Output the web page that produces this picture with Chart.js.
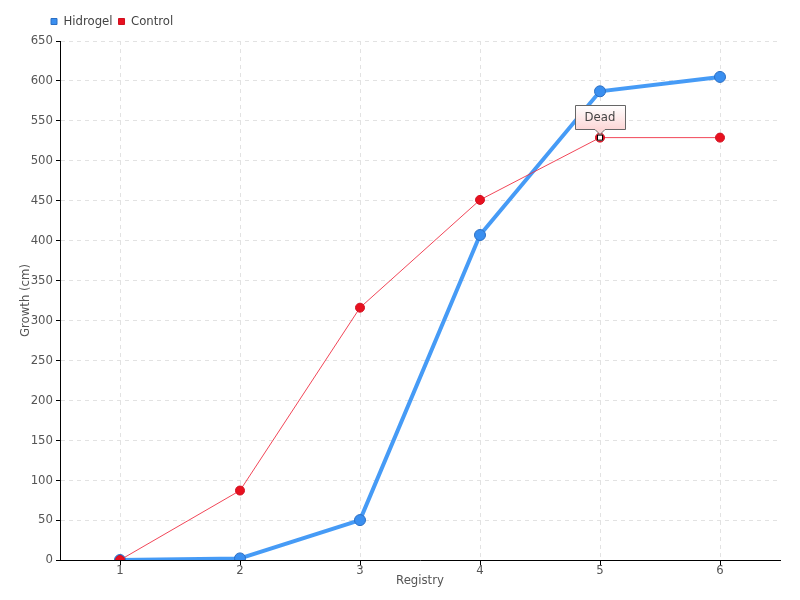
<!DOCTYPE html>
<html>
<head>
<meta charset="utf-8">
<script src="https://cdn.jsdelivr.net/npm/chart.js@4/dist/chart.umd.min.js"></script>
<style>
  html, body { margin: 0; padding: 0; background: #fff; }
  #wrap { width: 800px; height: 600px; }
</style>
</head>
<body>
<div id="wrap"><canvas id="growthChart"></canvas></div>
<script>
const registry = ['1', '2', '3', '4', '5', '6'];
const hidrogel = [0, 2, 50, 407, 587, 605];
const control = [0, 87, 316, 451, 529, 529];
const noteIndex = 4;
const noteText = 'Dead';

const FONT = '"DejaVu Sans Condensed", "Liberation Sans Narrow", "DejaVu Sans", sans-serif';

// little "Dead" balloon over the control point
const notePlugin = {
    id: 'note',
    afterInit(chart) {
        // a bit more room under the legend
        const fit = chart.legend.fit;
        chart.legend.fit = function() {
            fit.call(this);
            this.height += 3;
        };
    },
    afterLayout(chart) {
        // push the legend over to line up with the axis
        chart.legend.left += 45;
        chart.legend.right += 45;
    },
    afterDatasetsDraw(chart) {
        const pt = chart.getDatasetMeta(1).data[noteIndex];
        const ctx = chart.ctx;
        const x = pt.x, y = pt.y;
        ctx.save();
        // marker square
        ctx.fillStyle = '#fff';
        ctx.strokeStyle = '#000';
        ctx.lineWidth = 1;
        ctx.fillRect(x - 3, y - 3, 6, 6);
        ctx.strokeRect(x - 2.5, y - 2.5, 5, 5);
        // box
        const w = 50, h = 24;
        const bx = Math.round(x - w / 2) + 0.5, by = Math.round(y - 33) + 0.5;
        const g = ctx.createLinearGradient(0, by, 0, by + h);
        g.addColorStop(0, '#ffffff');
        g.addColorStop(1, '#fcd6d6');
        ctx.beginPath();
        ctx.moveTo(bx, by);
        ctx.lineTo(bx + w, by);
        ctx.lineTo(bx + w, by + h);
        ctx.lineTo(x + 5, by + h);
        ctx.lineTo(x, by + h + 5);
        ctx.lineTo(x - 5, by + h);
        ctx.lineTo(bx, by + h);
        ctx.closePath();
        ctx.fillStyle = g;
        ctx.fill();
        ctx.strokeStyle = '#666';
        ctx.stroke();
        ctx.fillStyle = '#444';
        ctx.font = '13px ' + FONT;
        ctx.textAlign = 'center';
        ctx.textBaseline = 'middle';
        ctx.fillText(noteText, x, by + h / 2);
        ctx.restore();
    }
};

document.addEventListener('DOMContentLoaded', function() {
    const ctx = document.getElementById('growthChart').getContext('2d');
    new Chart(ctx, {
        type: 'line',
        data: {
            labels: registry,
            datasets: [
                {
                    label: 'Hidrogel',
                    data: hidrogel,
                    order: 1,
                    borderColor: 'rgba(60, 150, 245, 0.95)',
                    backgroundColor: '#3a8ff0',
                    pointBackgroundColor: '#3a8ff0',
                    pointBorderColor: '#2b6fc4',
                    pointBorderWidth: 1,
                    pointRadius: 5.5,
                    borderWidth: 4,
                    tension: 0
                },
                {
                    label: 'Control',
                    data: control,
                    order: 0,  // red drawn on top, like the original
                    borderColor: 'rgba(240, 50, 70, 0.9)',
                    backgroundColor: '#e8101f',
                    pointBackgroundColor: '#e8101f',
                    pointBorderColor: '#d01020',
                    pointBorderWidth: 1,
                    pointRadius: 4.5,
                    borderWidth: 1,
                    tension: 0
                }
            ]
        },
        options: {
            responsive: true,
            maintainAspectRatio: false,
            animation: false,
            layout: { padding: { top: 9, right: 20, left: 0, bottom: 0 } },
            plugins: {
                tooltip: { enabled: false },
                legend: {
                    align: 'start',
                    labels: {
                        usePointStyle: true,
                        pointStyle: 'rect',
                        boxWidth: 6,
                        boxHeight: 6,
                        padding: 6,
                        color: '#444',
                        font: { family: FONT, size: 13 },
                        sort: (a, b) => a.datasetIndex - b.datasetIndex
                    }
                }
            },
            scales: {
                x: {
                    offset: true,
                    grid: {
                        offset: false,
                        color: '#e2e2e2',
                        tickColor: '#000',
                        tickLength: 5
                    },
                    border: { color: '#000', dash: [4, 4], display: true },
                    ticks: { color: '#555', font: { family: FONT, size: 13 }, padding: -2 },
                    title: { display: true, text: 'Registry', color: '#555', font: { family: FONT, size: 13 }, padding: { top: 0, bottom: 12 } },
                    afterFit(scale) { scale.height = 40; }
                },
                y: {
                    min: 0,
                    max: 650,
                    ticks: { stepSize: 50, color: '#555', font: { family: FONT, size: 13 }, padding: 3 },
                    grid: {
                        color: '#e2e2e2',
                        tickColor: '#000',
                        tickLength: 4
                    },
                    border: { color: '#000', dash: [4, 4] },
                    title: { display: true, text: 'Growth (cm)', color: '#555', font: { family: FONT, size: 13 }, padding: { top: 18, bottom: 0 } },
                    afterFit(scale) { scale.width = 60; }
                }
            }
        },
        plugins: [notePlugin]
    });
});
</script>
</body>
</html>
